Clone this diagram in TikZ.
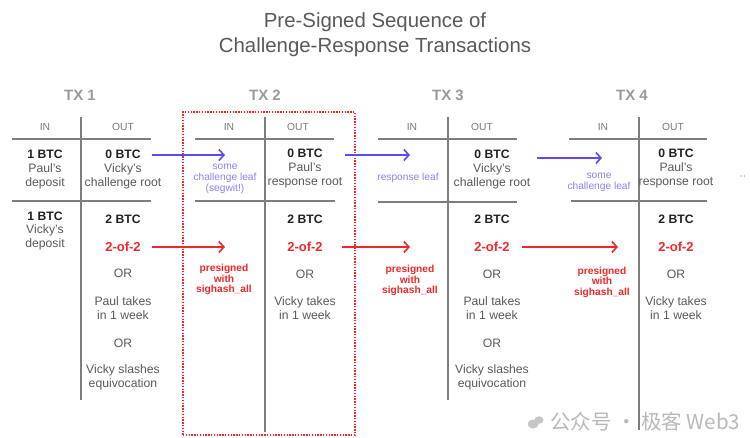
\documentclass[tikz,border=0pt]{standalone}
\usepackage{fontspec}
\setmainfont{Liberation Sans}
\newfontfamily\cjkfont{Noto Sans CJK SC}
\usetikzlibrary{arrows.meta}
\definecolor{txtgray}{HTML}{5A5A5A}
\definecolor{darktxt}{HTML}{222222}
\definecolor{hdrgray}{HTML}{7A7A7A}
\definecolor{txgray}{HTML}{9A9A9A}
\definecolor{linegray}{HTML}{7E7E7E}
\definecolor{arrblue}{HTML}{5B4CF2}
\definecolor{lblblue}{HTML}{8E82F0}
\definecolor{arrred}{HTML}{F02828}
\tikzset{
  x=1pt, y=-1pt,
  every node/.style={inner sep=0pt, outer sep=0pt},
  txt/.style={font=\fontsize{12.2}{13.8}\selectfont, text=txtgray, align=center},
  btc/.style={font=\fontsize{12.2}{13.8}\selectfont\bfseries, text=darktxt, align=center},
  redtxt/.style={font=\fontsize{13}{14}\selectfont\bfseries, text=arrred},
  hdr/.style={font=\fontsize{10.3}{12}\selectfont, text=hdrgray},
  txlbl/.style={font=\fontsize{15}{17}\selectfont\bfseries, text=txgray},
  bluelbl/.style={font=\fontsize{10.2}{11}\selectfont, text=lblblue, align=center},
  redlbl/.style={font=\fontsize{10.2}{10.6}\selectfont\bfseries, text=arrred, align=center},
  tline/.style={draw=linegray, line width=2.5pt},
  hline/.style={draw=linegray, line width=2pt},
  bluearr/.style={draw=arrblue, line width=1.6pt, -{Straight Barb[length=5pt,width=11pt]}},
  redarr/.style={draw=arrred, line width=1.6pt, -{Straight Barb[length=5pt,width=11pt]}},
  selbox/.style={draw=arrred, line width=1.4pt, dash pattern=on 1.4pt off 1.4pt}
}
\begin{document}
\begin{tikzpicture}
\fill[white] (0,0) rectangle (750,437);
\useasboundingbox (0,0) rectangle (750,437);

% title
\node[font=\fontsize{20.4}{24.5}\selectfont, text=txtgray, align=center] (title) at (375,34.5)
  {Pre-Signed Sequence of\\Challenge-Response Transactions};

% TX labels
\node[txlbl] (tx1) at (80,95) {TX 1};
\node[txlbl] (tx2) at (265,95) {TX 2};
\node[txlbl] (tx3) at (448,95) {TX 3};
\node[txlbl] (tx4) at (632,95) {TX 4};

% selection box around TX 2
\node[selbox, minimum width=172pt, minimum height=323pt] (box2) at (269,273.5) {};

% table lines
\coordinate (v1t) at (81,117); \coordinate (v1b) at (81,400);
\coordinate (v2t) at (265,117); \coordinate (v2b) at (265,432);
\coordinate (v3t) at (448,117); \coordinate (v3b) at (448,400);
\coordinate (v4t) at (639,117); \coordinate (v4b) at (639,430);
\draw[tline] (v1t) -- (v1b);
\draw[tline] (v2t) -- (v2b);
\draw[tline] (v3t) -- (v3b);
\draw[tline] (v4t) -- (v4b);
\coordinate (h1a) at (12,139); \coordinate (h1b) at (151,139);
\coordinate (h1c) at (12,201); \coordinate (h1d) at (151,201);
\coordinate (h2a) at (195,139); \coordinate (h2b) at (334,139);
\coordinate (h2c) at (195,201); \coordinate (h2d) at (335,201);
\coordinate (h3a) at (378,139); \coordinate (h3b) at (517,139);
\coordinate (h3c) at (378,202); \coordinate (h3d) at (517,202);
\coordinate (h4a) at (569,139); \coordinate (h4b) at (707,139);
\coordinate (h4c) at (571,201); \coordinate (h4d) at (707,201);
\draw[hline] (h1a) -- (h1b);
\draw[hline] (h1c) -- (h1d);
\draw[hline] (h2a) -- (h2b);
\draw[hline] (h2c) -- (h2d);
\draw[hline] (h3a) -- (h3b);
\draw[hline] (h3c) -- (h3d);
\draw[hline] (h4a) -- (h4b);
\draw[hline] (h4c) -- (h4d);

% headers
\node[hdr] (in1) at (45,127) {IN};   \node[hdr] (out1) at (123,127) {OUT};
\node[hdr] (in2) at (229,127) {IN};  \node[hdr] (out2) at (298,127) {OUT};
\node[hdr] (in3) at (412,127) {IN};  \node[hdr] (out3) at (482,127) {OUT};
\node[hdr] (in4) at (603,127) {IN};  \node[hdr] (out4) at (673,127) {OUT};

% ---------- TX 1 ----------
\node[txt] (t1i1) at (45,169.5) {\textcolor{darktxt}{\bfseries 1 BTC}\\Paul's\\deposit};
\node[txt] (t1o1) at (123,169.5) {\textcolor{darktxt}{\bfseries 0 BTC}\\Vicky's\\challenge root};
\node[txt] (t1i2) at (45,231) {\textcolor{darktxt}{\bfseries 1 BTC}\\Vicky's\\deposit};
\node[btc] (t1btc) at (123,219) {2 BTC};
\node[redtxt] (t1ms) at (123,247) {2-of-2};
\node[txt] (t1or1) at (123,273) {OR};
\node[txt] (t1pt) at (123,308.5) {Paul takes\\in 1 week};
\node[txt] (t1or2) at (123,343) {OR};
\node[txt] (t1vs) at (123,377.5) {Vicky slashes\\equivocation};

% ---------- TX 2 ----------
\node[bluelbl] (t2leaf) at (225,179) {some\\challenge leaf\\(segwit!)};
\node[txt] (t2o1) at (305,168.5) {\textcolor{darktxt}{\bfseries 0 BTC}\\Paul's\\response root};
\node[redlbl] (t2pre) at (224,279.5) {presigned\\with\\sighash\_all};
\node[btc] (t2btc) at (305,219) {2 BTC};
\node[redtxt] (t2ms) at (305,247) {2-of-2};
\node[txt] (t2or1) at (305,274) {OR};
\node[txt] (t2vt) at (305,308.5) {Vicky takes\\in 1 week};

% ---------- TX 3 ----------
\node[bluelbl] (t3leaf) at (408,178) {response leaf};
\node[txt] (t3o1) at (492,169.5) {\textcolor{darktxt}{\bfseries 0 BTC}\\Vicky's\\challenge root};
\node[redlbl] (t3pre) at (410,280.5) {presigned\\with\\sighash\_all};
\node[btc] (t3btc) at (492,219) {2 BTC};
\node[redtxt] (t3ms) at (492,247) {2-of-2};
\node[txt] (t3or1) at (492,274) {OR};
\node[txt] (t3pt) at (492,308.5) {Paul takes\\in 1 week};
\node[txt] (t3or2) at (492,343) {OR};
\node[txt] (t3vs) at (492,377.5) {Vicky slashes\\equivocation};

% ---------- TX 4 ----------
\node[bluelbl] (t4leaf) at (599,182) {some\\challenge leaf};
\node[txt] (t4o1) at (676,168.5) {\textcolor{darktxt}{\bfseries 0 BTC}\\Paul's\\response root};
\node[redlbl] (t4pre) at (602,282) {presigned\\with\\sighash\_all};
\node[btc] (t4btc) at (676,219) {2 BTC};
\node[redtxt] (t4ms) at (676,247) {2-of-2};
\node[txt] (t4or1) at (676,274) {OR};
\node[txt] (t4vt) at (676,308.5) {Vicky takes\\in 1 week};
\node[txt, text=gray] (dots) at (743,177) {$\cdot\cdot$};

% ---------- connectors ----------
\coordinate (b1s) at (152,155); \coordinate (b1e) at (225,155);
\coordinate (b2s) at (345,155); \coordinate (b2e) at (410,155);
\coordinate (b3s) at (537,158); \coordinate (b3e) at (602,158);
\coordinate (r1s) at (152,247); \coordinate (r1e) at (225,247);
\coordinate (r2s) at (342,247); \coordinate (r2e) at (410,247);
\coordinate (r3s) at (522,247); \coordinate (r3e) at (618,247);
\draw[bluearr] (b1s) -- (b1e);
\draw[bluearr] (b2s) -- (b2e);
\draw[bluearr] (b3s) -- (b3e);
\draw[redarr] (r1s) -- (r1e);
\draw[redarr] (r2s) -- (r2e);
\draw[redarr] (r3s) -- (r3e);

% watermark
\fill[gray!45] (533,424) ellipse (5.5pt and 4.5pt);
\fill[gray!45] (539,420) ellipse (4.5pt and 3.8pt);
\node[font=\cjkfont\fontsize{20.5}{22}\selectfont, text=gray!55, anchor=west] (wm) at (550,422) {公众号 · 极客 Web3};
\end{tikzpicture}
\end{document}
